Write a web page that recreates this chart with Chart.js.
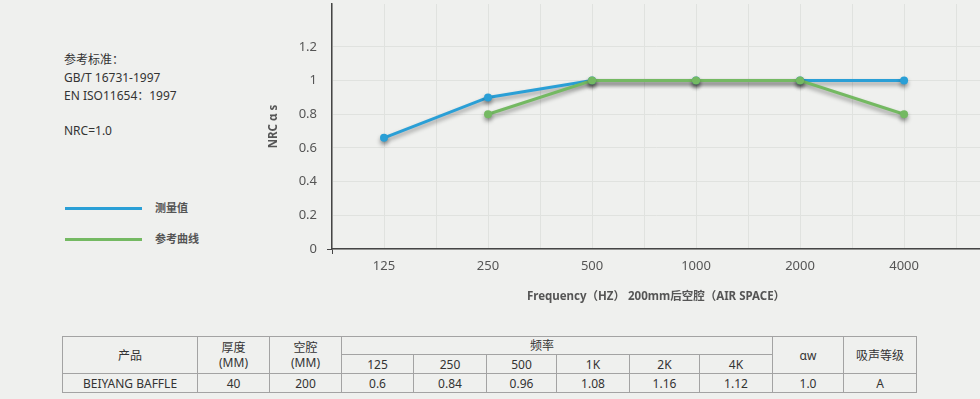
<!DOCTYPE html>
<html>
<head>
<meta charset="utf-8">
<script src="https://cdn.jsdelivr.net/npm/chart.js@4"></script>
<style>
  body { margin: 0; width: 980px; height: 399px; background: #eff0ee; position: relative; overflow: hidden;
         font-family: "Noto Sans", "Noto Sans CJK SC", sans-serif; color: #333; }
  #notes { position: absolute; left: 64px; top: 51px; font-size: 12px; line-height: 17.75px; }
  .leg { position: absolute; left: 65px; height: 3px; width: 77px; }
  .legtxt { position: absolute; left: 155px; font-size: 11px; font-weight: bold; color: #555; line-height: 14px; }
  #graph { position: absolute; left: 240px; top: 0; }
  table { position: absolute; left: 62px; top: 336px; border-collapse: collapse; table-layout: fixed;
          font-size: 12px; color: #333; }
  td { border: 1px solid #a3a3a3; text-align: center; padding: 0; line-height: 15px; }
</style>
</head>
<body>
<div id="notes">参考标准：<br>GB/T 16731-1997<br>EN ISO11654：1997<br><br>NRC=1.0</div>
<div class="leg" style="top:206.5px;background:#2a9fd6"></div>
<div class="legtxt" style="top:200.5px">测量值</div>
<div class="leg" style="top:237.5px;background:#74b962"></div>
<div class="legtxt" style="top:231.5px">参考曲线</div>
<canvas id="graph" width="740" height="310"></canvas>
<table id="tbl"></table>
<script>
//frequency bands on the x axis//
var freqs = ['125', '250', '500', '1000', '2000', '4000'];
//measured values (blue) and reference curve (green)//
var measured = [0.66, 0.9, 1.0, 1.0, 1.0, 1.0];
var reference = [null, 0.8, 1.0, 1.0, 1.0, 0.8];
var yTicks = [0, 0.2, 0.4, 0.6, 0.8, 1, 1.2];

//table below the chart//
var tblFreqs = ['125', '250', '500', '1K', '2K', '4K'];
var tblValues = ['0.6', '0.84', '0.96', '1.08', '1.16', '1.12'];
var product = 'BEIYANG BAFFLE';
var thickness = '40';
var cavity = '200';
var alphaW = '1.0';
var grade = 'A';
var colWidths = [135, 72, 72, 72, 73, 70, 73, 70, 73, 71, 73];

Chart.defaults.font.family = '"Noto Sans", "Noto Sans CJK SC", sans-serif';
var gridColor = '#e0e2df';
var axisColor = '#454545';

function pts(arr) {
  return arr.map(function (v, i) { return { x: i, y: v }; });
}

//drop shadow under the lines//
const shadow = {
  id: 'shadow',
  beforeDatasetsDraw(chart) {
    var c = chart.ctx;
    c.save();
    c.shadowColor = 'rgba(0,0,0,0.38)';
    c.shadowBlur = 4;
    c.shadowOffsetY = 3;
  },
  afterDatasetsDraw(chart) { chart.ctx.restore(); }
};

function noPad(s) {
  s.paddingTop = 0; s.paddingBottom = 0; s.paddingLeft = 0; s.paddingRight = 0;
}

const graph = new Chart('graph', {
  type: 'line',
  data: {
    datasets: [{
      label: '测量值',
      data: pts(measured),
      borderColor: '#2a9fd6',
      backgroundColor: '#2a9fd6',
      pointBackgroundColor: '#2a9fd6',
      borderWidth: 3,
      pointRadius: 4,
      pointBorderWidth: 0,
      order: 1
    }, {
      label: '参考曲线',
      data: pts(reference),
      borderColor: '#74b962',
      backgroundColor: '#74b962',
      pointBackgroundColor: '#74b962',
      borderWidth: 3,
      pointRadius: 4,
      pointBorderWidth: 0,
      order: 0
    }]
  },
  plugins: [shadow],
  options: {
    responsive: false,
    animation: false,
    devicePixelRatio: 1,
    layout: { autoPadding: false, padding: { top: 4, left: 0, right: 0, bottom: 0 } },
    plugins: { legend: { display: false }, tooltip: { enabled: false } },
    scales: {
      x2: {
        type: 'linear', position: 'bottom', weight: 0,
        min: -0.5, max: 5.73,
        afterBuildTicks: function (s) {
          s.ticks = freqs.map(function (f, i) { return { value: i - 0.5 }; }).concat([{ value: freqs.length - 0.5 }]);
        },
        afterFit: function (s) { s.height = 5; noPad(s); },
        ticks: { display: false },
        grid: {
          color: gridColor, drawTicks: true, tickLength: 5,
          tickColor: function (ctx) { return ctx.index === 0 ? axisColor : 'rgba(0,0,0,0)'; }
        },
        border: { display: true, color: axisColor, width: 1.5 }
      },
      x: {
        type: 'linear', position: 'bottom', weight: 1,
        min: -0.5, max: 5.73,
        afterBuildTicks: function (s) {
          s.ticks = freqs.map(function (f, i) { return { value: i }; });
        },
        afterFit: function (s) { s.height = 56; noPad(s); },
        ticks: {
          color: '#555', font: { size: 13 }, padding: 4, maxRotation: 0,
          callback: function (v) { return freqs[v]; }
        },
        grid: { color: gridColor, drawTicks: false },
        border: { display: false },
        title: {
          display: true, text: 'Frequency（HZ） 200mm后空腔（AIR SPACE）',
          color: '#555', font: { size: 11.5, weight: 'bold' }, padding: { top: 0, bottom: 6 }
        }
      },
      y: {
        min: 0, max: 1.455,
        afterBuildTicks: function (s) {
          s.ticks = yTicks.map(function (v) { return { value: v }; });
        },
        afterFit: function (s) { s.width = 92; noPad(s); },
        ticks: {
          color: '#555', font: { size: 13 }, padding: 10,
          callback: function (v) { return String(v); }
        },
        grid: {
          color: gridColor, drawTicks: true, tickLength: 5,
          tickColor: function (ctx) { return ctx.tick && ctx.tick.value === 0 ? axisColor : 'rgba(0,0,0,0)'; }
        },
        border: { display: true, color: axisColor, width: 1.5 },
        title: {
          display: true, text: 'NRC α s', color: '#555',
          font: { size: 11.5, weight: 'bold' }, padding: { top: 27, bottom: 0 }
        }
      }
    }
  }
});

//build the table//
function buildTable() {
  var t = document.getElementById('tbl');
  var html = '<colgroup>';
  colWidths.forEach(function (w) { html += '<col style="width:' + w + 'px">'; });
  html += '</colgroup>';
  html += '<tr style="height:18px"><td rowspan="2">产品</td><td rowspan="2">厚度<br>(MM)</td><td rowspan="2">空腔<br>(MM)</td>' +
          '<td colspan="' + tblFreqs.length + '" style="padding-right:30px">频率</td><td rowspan="2">αw</td><td rowspan="2">吸声等级</td></tr>';
  html += '<tr style="height:19px">';
  tblFreqs.forEach(function (f) { html += '<td>' + f + '</td>'; });
  html += '</tr>';
  html += '<tr style="height:19px"><td>' + product + '</td><td>' + thickness + '</td><td>' + cavity + '</td>';
  tblValues.forEach(function (v) { html += '<td>' + v + '</td>'; });
  html += '<td>' + alphaW + '</td><td>' + grade + '</td></tr>';
  t.innerHTML = html;
}
buildTable();
</script>
</body>
</html>
